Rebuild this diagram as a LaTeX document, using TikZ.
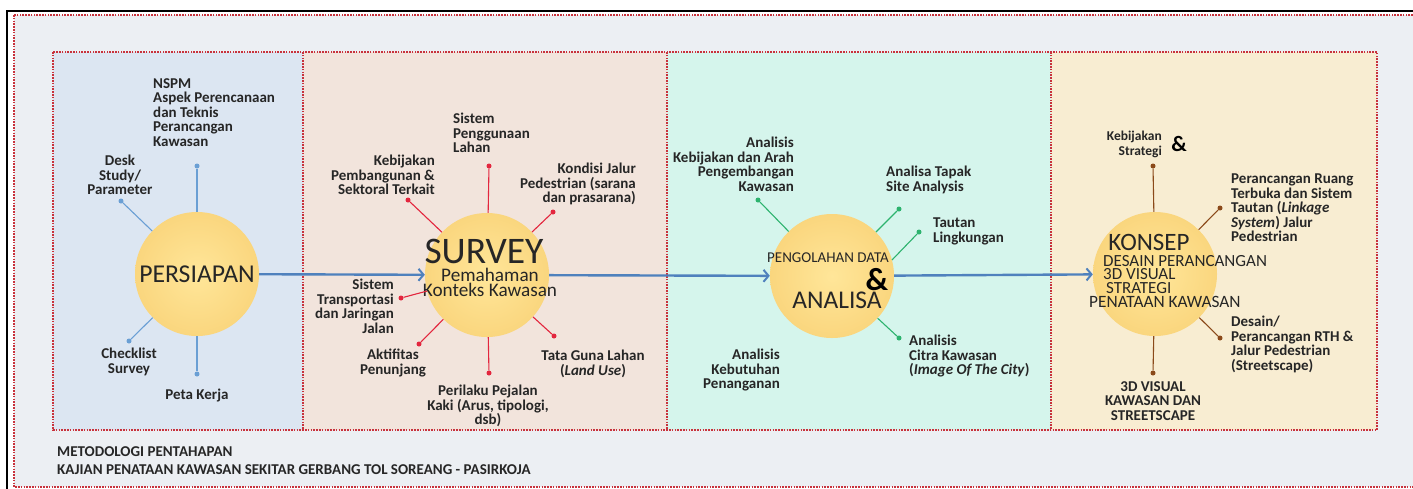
\documentclass[tikz,border=0pt]{standalone}
\usepackage{fontspec}
\setmainfont{Carlito}
\usetikzlibrary{arrows.meta}
\definecolor{bggray}{HTML}{ECEFF3}
\definecolor{pone}{HTML}{DCE6F2}
\definecolor{ptwo}{HTML}{F2E4DC}
\definecolor{pthree}{HTML}{D5F5EC}
\definecolor{pfour}{HTML}{F8EDD2}
\definecolor{circin}{HTML}{FFE699}
\definecolor{circout}{HTML}{FAD67E}
\definecolor{flowblue}{HTML}{4F81BD}
\definecolor{spblue}{HTML}{6A9FD4}
\definecolor{spred}{HTML}{E3263E}
\definecolor{spgreen}{HTML}{2DB36E}
\definecolor{spbrown}{HTML}{8B4A1A}
\definecolor{txt}{HTML}{262626}
\definecolor{dotred}{HTML}{C8323C}
\tikzset{
  reddot/.style={draw=dotred, line width=1.3pt, dash pattern=on 1.6pt off 1.2pt},
  bigcirc/.style={circle, inner color=circin, outer color=circout, minimum size=124pt, inner sep=0pt},
  lbl/.style={font=\bfseries\fontsize{15}{14.5}\selectfont, text=txt, inner sep=0pt},
  flow/.style={draw=flowblue, line width=2.4pt, -{Straight Barb[length=5pt,width=12pt,line width=2pt]}},
  dotb/.style={circle, fill=#1, minimum size=5pt, inner sep=0pt},
  spoke/.style={draw=#1, line width=1.1pt},
}
\begin{document}
\begin{tikzpicture}[x=1pt,y=-1pt]
\useasboundingbox (0,0) rectangle (1413,488);
\clip (0,0) rectangle (1413,488);
\fill[white] (0,0) rectangle (1413,488);
% outer frame
\fill[bggray] (14,15) rectangle (1430,487);
\draw[reddot] (14,15) rectangle (1430,487);
\draw[black, line width=2pt] (7,500) -- (7,11) -- (1430,11);
% panels
\fill[pone] (53,52) rectangle (303,430);
\fill[ptwo] (303,52) rectangle (667,430);
\fill[pthree] (667,52) rectangle (1051,430);
\fill[pfour] (1051,52) rectangle (1377,430);
\draw[reddot] (53,52) rectangle (1377,430);
\draw[reddot] (303,52) -- (303,430);
\draw[reddot] (667,52) -- (667,430);
\draw[reddot] (1051,52) -- (1051,430);

% circles
\node[bigcirc] (ps) at (197,274) {};
\node[bigcirc] (sv) at (487,275) {};
\node[bigcirc] (an) at (832,276) {};
\node[bigcirc] (ko) at (1155,274) {};

% flow arrows
\draw[flow] (ps) -- (sv);
\draw[flow] (sv) -- (an);
\draw[flow] (an) -- (ko);

% circle texts
\node[font=\fontsize{25.7}{28}\selectfont, text=txt, inner sep=0pt] (pst) at (197,274) {PERSIAPAN};
\node[font=\fontsize{37.5}{40}\selectfont, text=txt, inner sep=0pt] (svt) at (484,251) {SURVEY};
\node[font=\fontsize{19.2}{15}\selectfont, text=txt, inner sep=0pt, align=center] (svs) at (490,282) {Pemahaman\\Konteks Kawasan};
\node[font=\fontsize{15}{16}\selectfont, text=txt, inner sep=0pt] (ant1) at (828,258) {PENGOLAHAN DATA};
\node[font=\bfseries\fontsize{32}{34}\selectfont, text=black, inner sep=0pt] (anamp) at (877,280) {\&};
\node[font=\fontsize{25.5}{28}\selectfont, text=txt, inner sep=0pt] (ant2) at (837,300) {ANALISA};
\node[font=\fontsize{25}{28}\selectfont, text=txt, inner sep=0pt] (kot1) at (1149,242) {KONSEP};
\node[font=\fontsize{17}{13.7}\selectfont, text=txt, inner sep=0pt, anchor=north west, align=left] (kot2) at (1103,255) {DESAIN PERANCANGAN\\3D VISUAL\\\hspace*{3pt}STRATEGI};
\node[font=\fontsize{17.3}{13.7}\selectfont, text=txt, inner sep=0pt, anchor=north west] (kot3) at (1089,296) {PENATAAN KAWASAN};

% ---------- panel 1 spokes
\node[dotb=spblue] (p1) at (197,166) {};
\node[dotb=spblue] (p2) at (121,201) {};
\node[dotb=spblue] (p3) at (129,341) {};
\node[dotb=spblue] (p4) at (197,374) {};
\foreach \d in {p1,p2,p3,p4} \draw[spoke=spblue] (ps) -- (\d);
\node[lbl, anchor=north west, align=left] (l1) at (153,78) {NSPM\\Aspek Perencanaan\\dan Teknis\\Perancangan\\Kawasan};
\node[lbl, anchor=north, align=center] (l2) at (120,155) {Desk\\Study/\\Parameter};
\node[lbl, anchor=north, align=center] (l3) at (129,348) {Checklist\\Survey};
\node[lbl, anchor=north, align=center] (l4) at (197,389) {Peta Kerja};

% ---------- panel 2 spokes
\node[dotb=spred] (s1) at (489,166) {};
\node[dotb=spred] (s2) at (408,200) {};
\node[dotb=spred] (s3) at (553,212) {};
\node[dotb=spred] (s4) at (401,298) {};
\node[dotb=spred] (s5) at (419,344) {};
\node[dotb=spred] (s6) at (489,373) {};
\node[dotb=spred] (s7) at (554,336) {};
\foreach \d in {s1,s2,s3,s4,s5,s6,s7} \draw[spoke=spred] (sv) -- (\d);
\node[lbl, anchor=north west, align=left] (m1) at (453,113) {Sistem\\Penggunaan\\Lahan};
\node[lbl, anchor=north east, align=right] (m2) at (435,155) {Kebijakan\\Pembangunan \&\\Sektoral Terkait};
\node[lbl, anchor=north east, align=right] (m3) at (636,163) {Kondisi Jalur\\Pedestrian (sarana\\dan prasarana)};
\node[lbl, anchor=north east, align=right] (m4) at (394,279) {Sistem\\Transportasi\\dan Jaringan\\Jalan};
\node[lbl, anchor=north, align=center] (m5) at (393,349) {Aktifitas\\Penunjang};
\node[lbl, anchor=north, align=center] (m6) at (488,385) {Perilaku Pejalan\\Kaki (Arus, tipologi,\\dsb)};
\node[lbl, anchor=north, align=center] (m7) at (593,350) {Tata Guna Lahan\\(\textit{Land Use})};

% ---------- panel 3 spokes
\node[dotb=spgreen] (a1) at (758,200) {};
\node[dotb=spgreen] (a2) at (899,209) {};
\node[dotb=spgreen] (a3) at (919,232) {};
\node[dotb=spgreen] (a4) at (899,338) {};
\draw[spoke=spgreen] (an) -- (a1);
\draw[spoke=spgreen] (an) -- (a2);
\draw[spoke=spgreen] (an.15) -- (a3);
\draw[spoke=spgreen] (an) -- (a4);
\node[lbl, anchor=north east, align=right] (n1) at (794,137) {Analisis\\Kebijakan dan Arah\\Pengembangan\\Kawasan};
\node[lbl, anchor=north west, align=left] (n2) at (886,166) {Analisa Tapak\\Site Analysis};
\node[lbl, anchor=north west, align=left] (n3) at (933,218) {Tautan\\Lingkungan};
\node[lbl, anchor=north west, align=left] (n4) at (909,335) {Analisis\\Citra Kawasan\\(\textit{Image Of The City})};
\node[lbl, anchor=north east, align=right] (n5) at (780,349) {Analisis\\Kebutuhan\\Penanganan};

% ---------- panel 4 spokes
\node[dotb=spbrown] (k1) at (1153,166) {};
\node[dotb=spbrown] (k2) at (1220,208) {};
\node[dotb=spbrown] (k3) at (1220,338) {};
\node[dotb=spbrown] (k4) at (1153,373) {};
\foreach \d in {k1,k2,k3,k4} \draw[spoke=spbrown] (ko) -- (\d);
\node[lbl, font=\bfseries\fontsize{13.5}{15}\selectfont, anchor=north east, align=right] (o1) at (1162,131) {Kebijakan\\Strategi};
\node[font=\bfseries\fontsize{22}{24}\selectfont, text=black, inner sep=0pt] (o1amp) at (1179,144) {\&};
\node[lbl, anchor=north west, align=left] (o2) at (1231,174) {Perancangan Ruang\\Terbuka dan Sistem\\Tautan (\textit{Linkage}\\\textit{System}) Jalur\\Pedestrian};
\node[lbl, anchor=north west, align=left] (o3) at (1231,316) {Desain/\\Perancangan RTH \&\\Jalur Pedestrian\\(Streetscape)};
\node[lbl, anchor=north, align=center] (o4) at (1153,381) {3D VISUAL\\KAWASAN DAN\\STREETSCAPE};

% footer
\node[font=\bfseries\fontsize{15}{18}\selectfont, text=txt, inner sep=0pt, anchor=north west, align=left] (foot) at (57,446) {METODOLOGI PENTAHAPAN\\KAJIAN PENATAAN KAWASAN SEKITAR GERBANG TOL SOREANG - PASIRKOJA};
\end{tikzpicture}
\end{document}
